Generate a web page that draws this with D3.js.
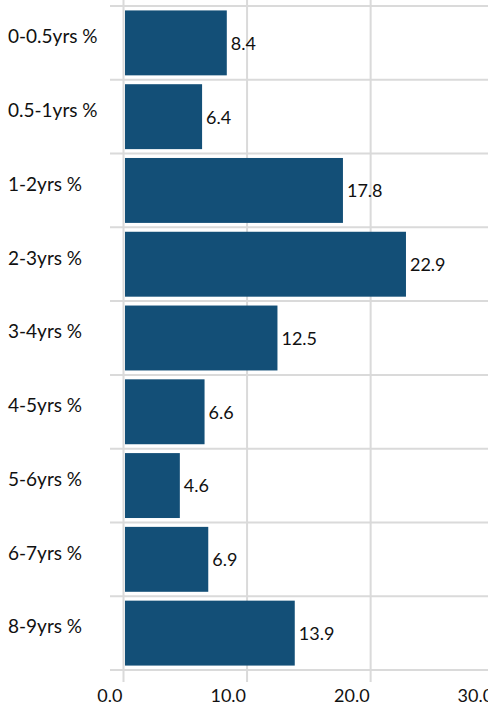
<!DOCTYPE html>
<html>
<head>
<meta charset="utf-8">
<script src="https://cdn.jsdelivr.net/npm/d3@7"></script>
<style>
  body { margin: 0; background: #fff; }
  svg text { font-family: Lato, "Open Sans", sans-serif; fill: #111; }
</style>
</head>
<body>
<div id="chart"></div>
<script>
// data
const categories = ["0-0.5yrs %", "0.5-1yrs %", "1-2yrs %", "2-3yrs %", "3-4yrs %",
  "4-5yrs %", "5-6yrs %", "6-7yrs %", "8-9yrs %"];
const values = [8.4, 6.4, 17.8, 22.9, 12.5, 6.6, 4.6, 6.9, 13.9];
const xTicks = [0, 10, 20, 30];

const width = 488, height = 705;
const margin = { top: 6, left: 123, bottom: 35 };
const barColor = "#134f77", gridColor = "#dadada";

const data = categories.map((c, i) => ({ cat: c, value: values[i] }));

const x = d3.scaleLinear().domain([0, 30]).range([margin.left, 493.7]);
const y = d3.scaleBand().domain(categories)
  .range([margin.top, height - margin.bottom]).paddingInner(0.12).paddingOuter(0.06);

const svg = d3.select("#chart").append("svg")
  .attr("width", width).attr("height", height);

// horizontal separators between rows
const step = y.step();
const rowEdges = d3.range(categories.length + 1).map(i => margin.top + i * step);
svg.append("g").selectAll("line")
  .data(rowEdges)
  .join("line")
  .attr("x1", 110).attr("x2", width)
  .attr("y1", d => d).attr("y2", d => d)
  .attr("stroke", gridColor).attr("stroke-width", 2);

// vertical grid + x axis
const axis = svg.append("g")
  .attr("transform", "translate(0," + (height - margin.bottom) + ")")
  .call(d3.axisBottom(x).tickValues(xTicks).tickFormat(d3.format(".1f")).tickSize(12));
axis.select(".domain").remove();
axis.selectAll(".tick line").attr("y1", -(height - margin.bottom))
  .attr("stroke", gridColor).attr("stroke-width", 2);
axis.selectAll(".tick text")
  .attr("text-anchor", "end").attr("dx", "-1").attr("y", 32).attr("dy", 0)
  .style("font-size", "18px").attr("fill", "#111");

// bars
svg.append("g").selectAll("rect")
  .data(data)
  .join("rect")
  .attr("x", x(0) + 2)
  .attr("y", d => y(d.cat))
  .attr("width", d => x(d.value) - x(0) - 2)
  .attr("height", y.bandwidth())
  .attr("fill", barColor);

// value labels
svg.append("g").selectAll("text")
  .data(data)
  .join("text")
  .attr("x", d => x(d.value) + 4)
  .attr("y", d => y(d.cat) + y.bandwidth() / 2)
  .attr("dy", "0.38em")
  .style("font-size", "18px")
  .text(d => d.value.toFixed(1));

// category labels
svg.append("g").selectAll("text")
  .data(data)
  .join("text")
  .attr("x", 8)
  .attr("y", d => y(d.cat) + y.bandwidth() / 2)
  .attr("dy", "0.02em")
  .style("font-size", "19px")
  .text(d => d.cat);
</script>
</body>
</html>
